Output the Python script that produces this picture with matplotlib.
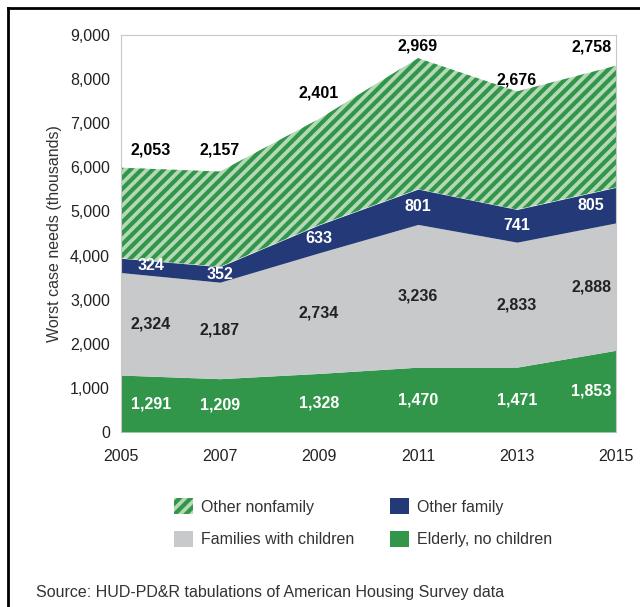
import matplotlib.pyplot as plt
from matplotlib.patches import Patch
from matplotlib.lines import Line2D

plt.rcParams['font.family'] = ['Liberation Sans', 'DejaVu Sans']
plt.rcParams['hatch.linewidth'] = 3.0

years = [2005, 2007, 2009, 2011, 2013, 2015]
elderly = [1291, 1209, 1328, 1470, 1471, 1853]
families = [2324, 2187, 2734, 3236, 2833, 2888]
other_family = [324, 352, 633, 801, 741, 805]
other_nonfamily = [2053, 2157, 2401, 2969, 2676, 2758]

GREEN = "#32964a"
LIGHT_GREEN = "#b5d8b6"
NAVY = "#243a78"
GRAY = "#c8c9cb"

# label tweaks so text sits where the original put it
top_offset = [400, 490, 590, 280, 260, 430]
label_x = [2005.6, 2007, 2009, 2011, 2013, 2014.5]

fig = plt.figure(figsize=(6.4, 6.07), dpi=100)
ax = fig.add_axes([0.189, 0.2883, 0.7735, 0.654])

b1 = elderly
b2 = [a + b for a, b in zip(b1, families)]
b3 = [a + b for a, b in zip(b2, other_family)]
b4 = [a + b for a, b in zip(b3, other_nonfamily)]

ax.fill_between(years, 0, b1, color=GREEN, lw=0)
ax.fill_between(years, b1, b2, color=GRAY, lw=0)
ax.fill_between(years, b2, b3, color=NAVY, lw=0)
ax.fill_between(years, b3, b4, facecolor=LIGHT_GREEN, edgecolor=GREEN,
                hatch='///', lw=0)

for i in range(len(years)):
    x = label_x[i]
    ax.text(x, b1[i] / 2, f"{elderly[i]:,}", color="white", fontsize=11.5,
            fontweight="bold", ha="center", va="center")
    ax.text(x, b1[i] + families[i] / 2, f"{families[i]:,}", color="#222222",
            fontsize=11.5, fontweight="bold", ha="center", va="center")
    ax.text(x, b2[i] + other_family[i] / 2, f"{other_family[i]:,}",
            color="white", fontsize=11.5, fontweight="bold",
            ha="center", va="center")
    ax.text(x, b4[i] + top_offset[i], f"{other_nonfamily[i]:,}",
            color="black", fontsize=11.5, fontweight="bold",
            ha="center", va="center")

ax.set_xlim(2005, 2015)
ax.set_ylim(0, 9000)
ax.set_xticks(years)
ax.set_yticks(range(0, 9001, 1000))
ax.set_yticklabels([f"{v:,}" for v in range(0, 9001, 1000)])
ax.tick_params(length=0, labelsize=11.5, colors="#222222", pad=8)
ax.tick_params(axis='x', pad=12)
for s in ['left', 'top', 'right']:
    ax.spines[s].set_color("#c8c8c8")
ax.spines['bottom'].set_visible(False)
ax.set_ylabel("Worst case needs (thousands)", fontsize=11.5,
              color="#333333", labelpad=6)

# legend fills column-wise, so order gives rows:
# Other nonfamily | Other family / Families with children | Elderly
handles = [
    Patch(facecolor=LIGHT_GREEN, edgecolor=GREEN, hatch='///', lw=0),
    Patch(facecolor=GRAY),
    Patch(facecolor=NAVY),
    Patch(facecolor=GREEN),
]
names = ["Other nonfamily", "Families with children", "Other family",
         "Elderly, no children"]
fig.legend(handles, names, ncol=2, loc="center", bbox_to_anchor=(0.567, 0.139),
           frameon=False, fontsize=11.5, handlelength=1.2, handleheight=1.2,
           columnspacing=2.2, labelspacing=1.0, handletextpad=0.5,
           labelcolor="#333333")

fig.text(0.057, 0.024, "Source: HUD-PD&R tabulations of American Housing Survey data",
         fontsize=11.5, color="#333333", ha="left", va="center")

# black frame lines at top and left
fig.add_artist(Line2D([8 / 640, 8 / 640], [0, 1 - 8 / 607], transform=fig.transFigure,
                      color="black", lw=2))
fig.add_artist(Line2D([8 / 640, 1], [1 - 8 / 607, 1 - 8 / 607], transform=fig.transFigure,
                      color="black", lw=2))

fig.savefig("out.png", dpi=100)
